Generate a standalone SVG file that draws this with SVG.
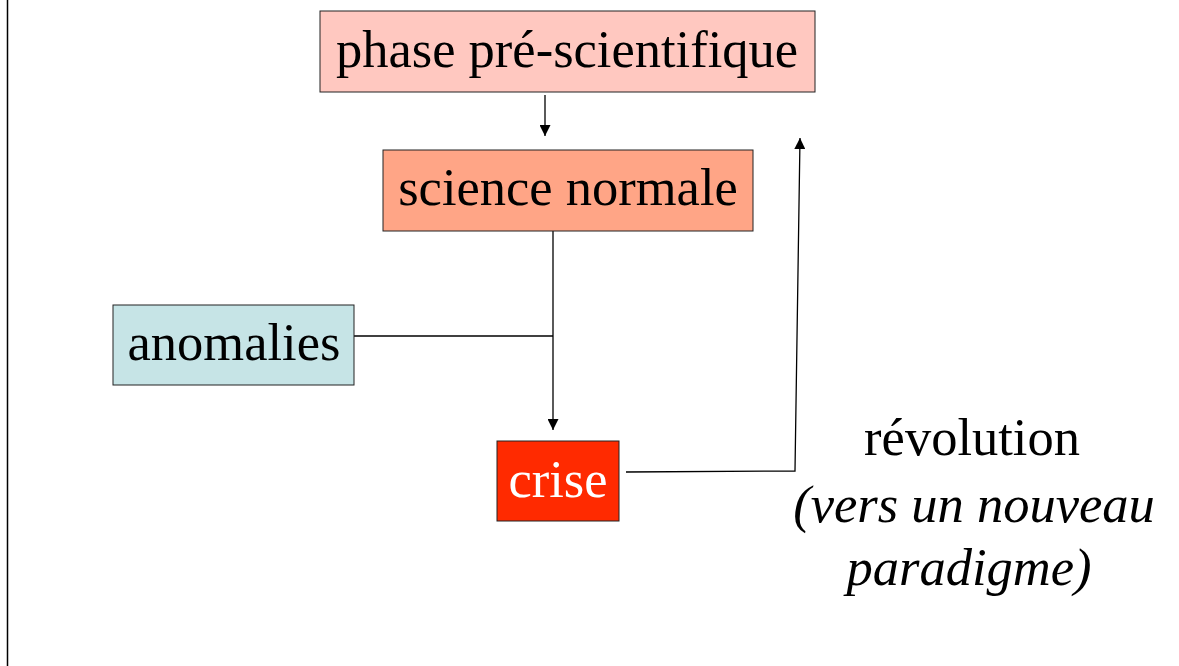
<svg xmlns="http://www.w3.org/2000/svg" width="1179" height="666" viewBox="0 0 1179 666">
<style>
.box{stroke:#222;stroke-width:1}
.t{font-family:"Liberation Serif","Times New Roman",serif;font-size:52.5px;fill:#000;text-anchor:middle}
.it{font-style:italic}
.c{fill:none;stroke:#000;stroke-width:1.3}
</style>
<defs>
<marker id="ah" viewBox="0 0 10 10" refX="10" refY="5" markerWidth="12" markerHeight="11" markerUnits="userSpaceOnUse" orient="auto">
<path d="M0,0 L10,5 L0,10 z" fill="#000"/>
</marker>
</defs>
<rect width="1179" height="666" fill="#fff"/>
<line x1="7.5" y1="0" x2="7.5" y2="666" stroke="#000" stroke-width="1.5"/>
<g id="connectors">
<line class="c" x1="545" y1="95" x2="545" y2="136" marker-end="url(#ah)"/>
<line class="c" x1="553" y1="231" x2="553" y2="430" marker-end="url(#ah)"/>
<line class="c" x1="354" y1="336" x2="553" y2="336"/>
<polyline class="c" points="626,472 795,471 800,138" marker-end="url(#ah)"/>
</g>
<g id="phase">
<rect class="box" x="320" y="11" width="495" height="81" fill="#ffc8c0"/>
<text class="t" x="567" y="67">phase pré-scientifique</text>
</g>
<g id="science">
<rect class="box" x="383" y="150" width="370" height="81" fill="#ffa586"/>
<text class="t" x="568" y="205">science normale</text>
</g>
<g id="anomalies">
<rect class="box" x="113" y="305" width="241" height="80" fill="#c6e4e6"/>
<text class="t" x="234" y="360">anomalies</text>
</g>
<g id="crise">
<rect class="box" x="497" y="441" width="122" height="80" fill="#ff2a00"/>
<text class="t" x="558" y="497" style="fill:#fff">crise</text>
</g>
<g id="revolution">
<text class="t" x="972" y="455">révolution</text>
<text class="t it" x="974" y="522">(vers un nouveau</text>
<text class="t it" x="969" y="585">paradigme)</text>
</g>
</svg>
